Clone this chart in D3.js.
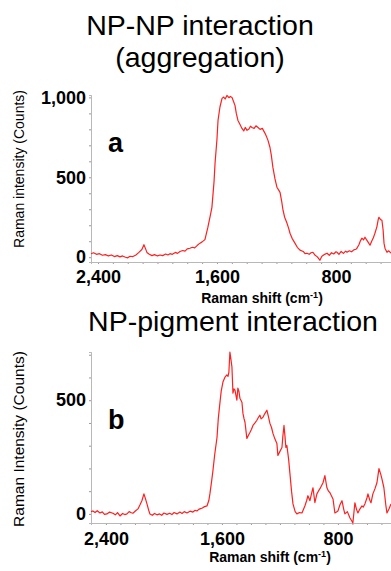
<!DOCTYPE html>
<html>
<head>
<meta charset="utf-8">
<script src="https://cdn.jsdelivr.net/npm/d3@7"></script>
<style>
  body { margin: 0; background: #fff; }
  text { font-family: "Liberation Sans", Arial, sans-serif; }
  .domain { stroke: #b8b8b8; }
</style>
</head>
<body>
<svg id="chart" width="391" height="571"></svg>
<script>
// panel a: NP-NP interaction (aggregation), [Raman shift cm-1, counts]
const spectrumA = [
  [2447, 22], [2430, 28], [2410, 18], [2390, 22], [2370, 12], [2350, 16], [2330, 8], [2310, 14],
  [2290, 4], [2270, 10], [2252, 2], [2235, 8], [2215, 0], [2200, -4], [2185, 6], [2165, 4],
  [2145, 14], [2125, 30], [2105, 48], [2091, 78], [2080, 52], [2071, 30], [2055, 18], [2037, 10],
  [2020, 16], [2000, 8], [1983, 14], [1965, 10], [1945, 20], [1930, 14], [1916, 22], [1900, 18],
  [1880, 30], [1865, 24], [1849, 36], [1830, 42], [1815, 38], [1800, 52], [1782, 56], [1765, 62],
  [1750, 58], [1730, 76], [1714, 88], [1700, 96], [1681, 110], [1661, 188], [1645, 260], [1634, 312],
  [1620, 470], [1613, 588], [1600, 740], [1593, 856], [1580, 940], [1566, 994], [1555, 1002], [1545, 990],
  [1533, 1012], [1520, 998], [1510, 1006], [1499, 1000], [1490, 978], [1479, 950], [1470, 900], [1459, 856],
  [1445, 830], [1432, 806], [1420, 790], [1410, 812], [1398, 794], [1385, 802], [1375, 820], [1365, 812],
  [1350, 806], [1338, 822], [1324, 812], [1310, 800], [1295, 806], [1277, 775], [1265, 750], [1257, 731],
  [1244, 688], [1235, 640], [1224, 562], [1210, 490], [1197, 438], [1185, 420], [1176, 406], [1165, 350],
  [1156, 294], [1145, 250], [1129, 212], [1118, 180], [1109, 150], [1095, 118], [1076, 88], [1060, 62],
  [1042, 44], [1020, 36], [1008, 22], [995, 25], [980, 18], [968, 28], [955, 31], [940, 12],
  [925, 2], [915, -10], [908, -19], [895, 6], [880, 16], [860, 25], [845, 12], [830, 28],
  [815, 20], [800, 34], [793, 31], [780, 18], [765, 36], [750, 24], [735, 38], [726, 31],
  [710, 40], [695, 34], [680, 46], [665, 50], [659, 56], [645, 80], [635, 104], [625, 119],
  [615, 108], [605, 125], [595, 110], [585, 96], [571, 75], [560, 100], [550, 118], [538, 150],
  [525, 190], [515, 240], [511, 250], [500, 235], [491, 231], [483, 170], [477, 88], [470, 55],
  [457, 31], [445, 40], [430, 25]
];

// panel b: NP-pigment interaction
const spectrumB = [
  [2503, 10], [2490, 13], [2475, 6], [2460, 14], [2441, 4], [2425, 9], [2410, -2], [2393, 0],
  [2375, 8], [2352, 3], [2335, -4], [2320, 6], [2303, -9], [2285, 2], [2270, -3], [2255, 0],
  [2240, 10], [2225, 5], [2214, 3], [2195, 14], [2179, 22], [2165, 40], [2152, 58], [2138, 88],
  [2127, 66], [2117, 44], [2105, 16], [2097, 0], [2080, -6], [2065, 2], [2048, -4], [2030, 0],
  [2015, -6], [2000, 4], [1979, -2], [1960, 3], [1945, -3], [1930, 6], [1910, 0], [1890, 8],
  [1875, 2], [1860, 10], [1841, 4], [1820, 12], [1800, 8], [1785, 16], [1772, 13], [1760, 20],
  [1752, 22], [1735, 26], [1720, 32], [1703, 35], [1690, 60], [1683, 88], [1672, 140], [1662, 190],
  [1650, 260], [1634, 336], [1625, 420], [1614, 487], [1605, 540], [1593, 580], [1580, 600], [1566, 611],
  [1558, 605], [1552, 624], [1545, 712], [1538, 680], [1531, 646], [1524, 531], [1517, 550], [1510, 544],
  [1503, 520], [1497, 500], [1490, 553], [1483, 540], [1476, 509], [1462, 491], [1455, 442], [1448, 420],
  [1441, 403], [1428, 332], [1418, 345], [1407, 358], [1396, 372], [1386, 389], [1372, 400], [1359, 412],
  [1348, 425], [1338, 434], [1330, 418], [1317, 425], [1305, 440], [1290, 456], [1280, 430], [1269, 398],
  [1258, 380], [1248, 354], [1235, 330], [1221, 310], [1214, 257], [1200, 275], [1186, 292], [1180, 340],
  [1172, 389], [1165, 340], [1159, 292], [1152, 301], [1140, 240], [1131, 177], [1120, 100], [1110, 44],
  [1095, 10], [1083, 0], [1065, 6], [1048, 4], [1028, 35], [1015, 60], [1007, 80], [993, 58],
  [980, 95], [972, 115], [959, 50], [945, 88], [935, 100], [924, 111], [903, 137], [890, 168],
  [876, 115], [865, 100], [855, 93], [845, 80], [834, 66], [821, 4], [810, 8], [800, 13],
  [786, 40], [772, 58], [760, 20], [752, 0], [735, 10], [717, -18], [705, -30], [697, -40],
  [683, 49], [672, 20], [662, 4], [650, 20], [634, 35], [625, 30], [614, 44], [600, 70],
  [593, 88], [580, 60], [572, 49], [559, 88], [545, 110], [531, 137], [517, 199], [505, 175],
  [497, 155], [483, 115], [470, 40], [462, 4], [448, 22], [434, 44]
];

const xTicks = [2400, 1600, 800];
const yTicksA = [0, 500, 1000];
const yTicksB = [0, 500];

const svg = d3.select('#chart');
const fmt = d3.format(',');

function drawPanel(opts) {
    let x = d3.scaleLinear().domain(opts.xDomain).range([91, 391]);
    let y = d3.scaleLinear().domain(opts.yDomain).range([opts.bottom, opts.top]);
    let g = svg.append('g');

    // minor ticks
    g.append('g')
        .attr('transform', `translate(0,${opts.bottom})`)
        .call(d3.axisBottom(x).tickValues(d3.range(500, 2500, 100)).tickSize(2).tickFormat(''))
        .call(a => a.selectAll('line').attr('stroke', '#999'))
        ;
    g.append('g')
        .attr('transform', 'translate(91,0)')
        .call(d3.axisLeft(y).tickValues(d3.range(0, opts.yDomain[1], 100)).tickSize(2).tickFormat(''))
        .call(a => a.selectAll('line').attr('stroke', '#999'))
        ;

    let xAxis = g.append('g')
        .attr('transform', `translate(0,${opts.bottom})`)
        .call(d3.axisBottom(x).tickValues(xTicks).tickSize(0).tickPadding(opts.xPad).tickFormat(fmt));
    xAxis.selectAll('text')
        .attr('fill', '#000')
        .style('font-size', '18px')
        .style('font-weight', 'bold');

    let yAxis = g.append('g')
        .attr('transform', 'translate(91,0)')
        .call(d3.axisLeft(y).tickValues(opts.yTicks).tickSize(0).tickPadding(5).tickFormat(fmt));
    yAxis.selectAll('text')
        .attr('fill', '#000')
        .style('font-size', '18px')
        .style('font-weight', 'bold');

    g.selectAll('.domain').attr('stroke', '#b8b8b8');

    let line = d3.line().x(d => x(d[0])).y(d => y(d[1]));
    g.append('path')
        .datum(opts.data)
        .attr('d', line)
        .attr('fill', 'none')
        .attr('stroke', '#ff1f1f')
        .attr('stroke-width', 1.2)
        .attr('stroke-linejoin', 'round');

    // panel letter
    g.append('text')
        .attr('x', 108).attr('y', opts.letterY)
        .style('font-size', '27px').style('font-weight', 'bold')
        .text(opts.letter);

    // axis titles
    let xl = g.append('text')
        .attr('x', opts.xLabelX).attr('y', opts.xLabelY)
        .attr('text-anchor', 'middle')
        .style('font-size', '14px').style('font-weight', 'bold');
    xl.append('tspan').text('Raman shift (cm');
    xl.append('tspan').attr('dy', -5).style('font-size', '9px').text('-1');
    xl.append('tspan').attr('dy', 5).text(')');

    g.append('text')
        .attr('transform', `translate(24,${opts.yLabelY}) rotate(-90)`)
        .attr('text-anchor', 'middle')
        .style('font-size', opts.yLabelSize + 'px')
        .text(opts.yLabel);
}

drawPanel({
    data: spectrumA, xDomain: [2447, 430], yDomain: [-30, 1015],
    top: 95, bottom: 262, yTicks: yTicksA, xPad: 8.5,
    letter: 'a', letterY: 152,
    xLabelX: 262, xLabelY: 303,
    yLabel: 'Raman intensity (Counts)', yLabelY: 169, yLabelSize: 14
});

drawPanel({
    data: spectrumB, xDomain: [2503, 434], yDomain: [-40, 712],
    top: 352, bottom: 523, yTicks: yTicksB, xPad: 9,
    letter: 'b', letterY: 429,
    xLabelX: 270, xLabelY: 562,
    yLabel: 'Raman Intensity (Counts)', yLabelY: 439, yLabelSize: 15.5
});

// titles
svg.append('text').attr('x', 200).attr('y', 35).attr('text-anchor', 'middle')
    .style('font-size', '28.5px').text('NP-NP interaction');
svg.append('text').attr('x', 200).attr('y', 67).attr('text-anchor', 'middle')
    .style('font-size', '28.5px').text('(aggregation)');
svg.append('text').attr('x', 233).attr('y', 331).attr('text-anchor', 'middle')
    .style('font-size', '28.5px').text('NP-pigment interaction');
</script>
</body>
</html>
